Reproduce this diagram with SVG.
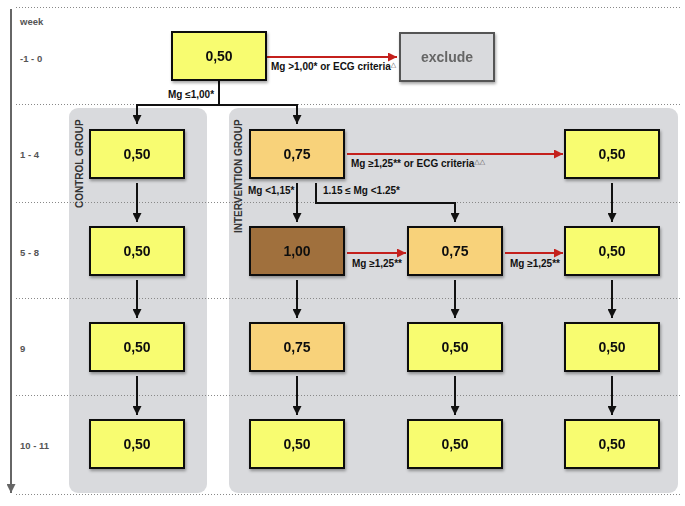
<svg xmlns="http://www.w3.org/2000/svg" width="685" height="506" viewBox="0 0 685 506">
<style>
text{font-family:"Liberation Sans",Arial,sans-serif;font-weight:bold}
.wk{font-size:9.5px;fill:#555}
.val{font-size:14px;fill:#111;text-anchor:middle}
.lbl{font-size:10px;fill:#111}
.grp{font-size:10px;fill:#333}
.box{stroke:#111;stroke-width:2}
.y{fill:#f8fc70}
.o{fill:#f8d27a}
.b{fill:#a0703c}
.dot{stroke:#888;stroke-width:1;stroke-dasharray:1 2;fill:none}
.blk{stroke:#111;stroke-width:2;fill:none;marker-end:url(#ab)}
.red{stroke:#c4201c;stroke-width:2;fill:none;marker-end:url(#ar)}
.tri{font-family:"DejaVu Sans",sans-serif;font-size:7px;fill:#555;font-weight:normal}
.panel{fill:#d9dadd}
</style>
<defs>
<marker id="ab" viewBox="0 0 10 10" refX="10" refY="5" markerWidth="9" markerHeight="9" markerUnits="userSpaceOnUse" orient="auto"><path d="M0,0 L10,5 L0,10 z" fill="#111"/></marker>
<marker id="ar" viewBox="0 0 10 10" refX="10" refY="5" markerWidth="9" markerHeight="9" markerUnits="userSpaceOnUse" orient="auto"><path d="M0,0 L10,5 L0,10 z" fill="#c4201c"/></marker>
<marker id="ag" viewBox="0 0 10 10" refX="10" refY="5" markerWidth="9" markerHeight="9" markerUnits="userSpaceOnUse" orient="auto"><path d="M0,0 L10,5 L0,10 z" fill="#666"/></marker>
<filter id="sh" x="-10%" y="-10%" width="130%" height="140%"><feDropShadow dx="1" dy="2" stdDeviation="1.5" flood-color="#000" flood-opacity="0.35"/></filter>
</defs>

<g id="panels">
<rect class="panel" x="69" y="108" width="138" height="385" rx="9"/>
<rect class="panel" x="229" y="108" width="449" height="385" rx="9"/>
</g>

<g id="grid">
<line class="dot" x1="16" y1="7.5" x2="680" y2="7.5"/>
<line class="dot" x1="16" y1="104.5" x2="680" y2="104.5"/>
<line class="dot" x1="16" y1="202.5" x2="680" y2="202.5"/>
<line class="dot" x1="16" y1="298.5" x2="680" y2="298.5"/>
<line class="dot" x1="16" y1="395.5" x2="680" y2="395.5"/>
<line class="dot" x1="16" y1="494.5" x2="680" y2="494.5"/>
<line x1="11" y1="9" x2="11" y2="493" stroke="#666" stroke-width="2" marker-end="url(#ag)"/>
</g>

<g id="weeks">
<text class="wk" x="20" y="25">week</text>
<text class="wk" x="20" y="62">-1 - 0</text>
<text class="wk" x="20" y="158">1 - 4</text>
<text class="wk" x="20" y="256">5 - 8</text>
<text class="wk" x="20" y="352">9</text>
<text class="wk" x="20" y="449">10 - 11</text>
</g>

<g id="group-labels">
<text class="grp" transform="translate(83,208) rotate(-90)">CONTROL GROUP</text>
<text class="grp" transform="translate(242,233) rotate(-90)">INTERVENTION GROUP</text>
</g>

<g id="connectors">
<path class="blk" d="M219,81 V105 H137 V124"/>
<path class="blk" d="M219,105 H297 V124"/>
<line class="red" x1="267" y1="57" x2="397" y2="57"/>
<line class="blk" x1="137" y1="183" x2="137" y2="222"/>
<line class="blk" x1="137" y1="280" x2="137" y2="318"/>
<line class="blk" x1="137" y1="376" x2="137" y2="415"/>
<line class="blk" x1="297" y1="183" x2="297" y2="222"/>
<line class="blk" x1="297" y1="280" x2="297" y2="318"/>
<line class="blk" x1="297" y1="376" x2="297" y2="415"/>
<path class="blk" d="M316,183 V203 H455 V222"/>
<line class="blk" x1="455" y1="280" x2="455" y2="318"/>
<line class="blk" x1="455" y1="376" x2="455" y2="415"/>
<line class="blk" x1="612" y1="183" x2="612" y2="222"/>
<line class="blk" x1="612" y1="280" x2="612" y2="318"/>
<line class="blk" x1="612" y1="376" x2="612" y2="415"/>
<line class="red" x1="347" y1="154" x2="563" y2="154"/>
<line class="red" x1="347" y1="253" x2="406" y2="253"/>
<line class="red" x1="505" y1="253" x2="563" y2="253"/>
<text class="lbl" x="168" y="98">Mg ≤1,00*</text>
<text class="lbl" x="271" y="70">Mg &gt;1,00* or ECG criteria<tspan class="tri" dy="-3">△</tspan></text>
<text class="lbl" x="351" y="167">Mg ≥1,25** or ECG criteria<tspan class="tri" dy="-3">△△</tspan></text>
<text class="lbl" x="248" y="194">Mg &lt;1,15*</text>
<text class="lbl" x="323" y="194">1.15 ≤ Mg &lt;1.25*</text>
<text class="lbl" x="352" y="267">Mg ≥1,25**</text>
<text class="lbl" x="510" y="267">Mg ≥1,25**</text>
</g>

<g id="start" filter="url(#sh)"><rect class="box y" x="172" y="32" width="94" height="48"/><text class="val" x="219" y="61">0,50</text></g>
<g id="exclude" filter="url(#sh)"><rect x="400" y="33" width="94" height="48" fill="#d9dadd" stroke="#555" stroke-width="2"/><text x="447" y="62" text-anchor="middle" font-size="14" fill="#666">exclude</text></g>

<g id="c1" filter="url(#sh)"><rect class="box y" x="90" y="130" width="94" height="48"/><text class="val" x="137" y="159">0,50</text></g>
<g id="c2" filter="url(#sh)"><rect class="box y" x="90" y="227" width="94" height="48"/><text class="val" x="137" y="256">0,50</text></g>
<g id="c3" filter="url(#sh)"><rect class="box y" x="90" y="323" width="94" height="48"/><text class="val" x="137" y="352">0,50</text></g>
<g id="c4" filter="url(#sh)"><rect class="box y" x="90" y="420" width="94" height="48"/><text class="val" x="137" y="449">0,50</text></g>

<g id="i11" filter="url(#sh)"><rect class="box o" x="250" y="130" width="94" height="48"/><text class="val" x="297" y="159">0,75</text></g>
<g id="i12" filter="url(#sh)"><rect class="box b" x="250" y="227" width="94" height="48"/><text class="val" x="297" y="256">1,00</text></g>
<g id="i13" filter="url(#sh)"><rect class="box o" x="250" y="323" width="94" height="48"/><text class="val" x="297" y="352">0,75</text></g>
<g id="i14" filter="url(#sh)"><rect class="box y" x="250" y="420" width="94" height="48"/><text class="val" x="297" y="449">0,50</text></g>

<g id="i22" filter="url(#sh)"><rect class="box o" x="408" y="227" width="94" height="48"/><text class="val" x="455" y="256">0,75</text></g>
<g id="i23" filter="url(#sh)"><rect class="box y" x="408" y="323" width="94" height="48"/><text class="val" x="455" y="352">0,50</text></g>
<g id="i24" filter="url(#sh)"><rect class="box y" x="408" y="420" width="94" height="48"/><text class="val" x="455" y="449">0,50</text></g>

<g id="i31" filter="url(#sh)"><rect class="box y" x="565" y="130" width="94" height="48"/><text class="val" x="612" y="159">0,50</text></g>
<g id="i32" filter="url(#sh)"><rect class="box y" x="565" y="227" width="94" height="48"/><text class="val" x="612" y="256">0,50</text></g>
<g id="i33" filter="url(#sh)"><rect class="box y" x="565" y="323" width="94" height="48"/><text class="val" x="612" y="352">0,50</text></g>
<g id="i34" filter="url(#sh)"><rect class="box y" x="565" y="420" width="94" height="48"/><text class="val" x="612" y="449">0,50</text></g>
</svg>
